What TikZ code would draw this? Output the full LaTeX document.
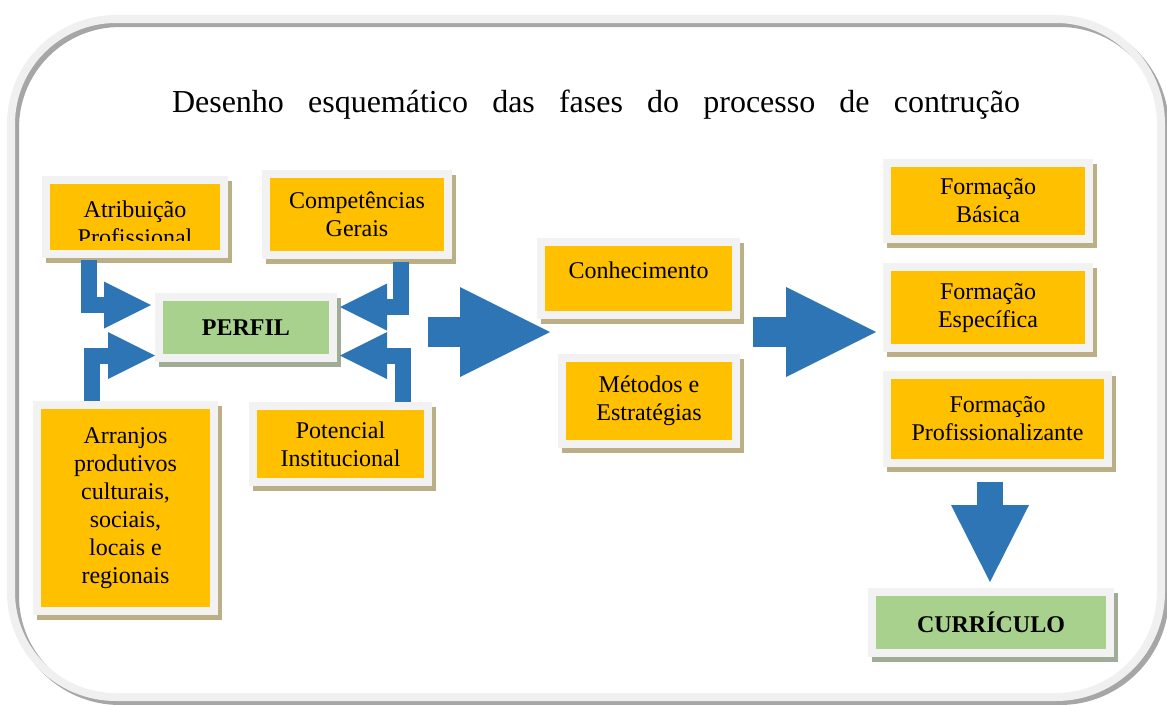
\documentclass[tikz,border=0pt]{standalone}
\usepackage{fontspec}
\setmainfont{Liberation Serif}
\usetikzlibrary{arrows.meta,calc}

\definecolor{boxyellow}{HTML}{FFC000}
\definecolor{boxframe}{HTML}{F2F2F2}
\definecolor{boxshade}{HTML}{BDAF85}
\definecolor{perfilgreen}{HTML}{A9D18E}
\definecolor{greenshade}{HTML}{A0AC96}
\definecolor{arrowblue}{HTML}{2E75B6}
\definecolor{outerband}{HTML}{F0F0F0}
\definecolor{outershade}{HTML}{A6A6A6}

\tikzset{
  caixa/.style 2 args={draw=boxframe, line width=8pt, fill=#1, align=center, inner sep=0pt,
    preaction={draw=#2, fill=#2, transform canvas={shift={(3.5pt,-5pt)}}}},
  fase/.style={caixa={boxyellow}{boxshade}, font=\fontsize{24}{28}\selectfont},
  meta/.style={caixa={perfilgreen}{greenshade}, font=\fontsize{24}{28}\selectfont\bfseries},
  seta/.style={arrowblue, line width=16pt, -{Triangle[length=47pt, width=47pt, line width=0pt]}},
  setagrande/.style={arrowblue, line width=30pt, -{Triangle[length=90pt, width=90pt, line width=0pt]}},
  setabaixo/.style={arrowblue, line width=26pt, -{Triangle[length=77pt, width=78pt, line width=0pt]}}
}

\begin{document}
\begin{tikzpicture}[x=1pt,y=-1pt]

    \useasboundingbox (0,0) rectangle (1167,704);
	\draw[outershade, line width=8pt, rounded corners=105pt] (15,23) rectangle (1165,701); % sombra
	\draw[outerband, line width=8pt, rounded corners=105pt] (11,19) rectangle (1161,697); % moldura

	\node[font=\fontsize{32}{38}\selectfont, anchor=base] (titulo) at (596,112)
	  {\makebox[848pt][s]{Desenho esquemático das fases do processo de contrução}};

	\node[fase, minimum width=178pt, minimum height=74pt] (atr) at (135,217) {};
	\begin{scope}
	  \clip ($(atr.north west)+(4,4)$) rectangle ($(atr.east)+(-4,23)$); % texto cortado
	  \node[font=\fontsize{24}{28}\selectfont, align=center] (atrtexto) at ($(atr.center)+(0,6)$) {Atribuição\\Profissional};
	\end{scope}
	\node[fase, minimum width=182pt, minimum height=81pt] (comp) at (357,214.5) {Competências\\Gerais};
	\node[meta, minimum width=174pt, minimum height=61pt] (perfil) at (246,327.5) {PERFIL};
	\node[fase, minimum width=177pt, minimum height=206pt] (arr) at (125.5,508) {Arranjos\\produtivos\\culturais,\\sociais,\\locais e\\regionais};
	\node[fase, minimum width=175pt, minimum height=76pt] (pot) at (340.5,444) {Potencial\\Institucional};

	\node[fase, minimum width=195pt, minimum height=73pt, text height=16pt, text depth=16pt] (con) at (638.5,278.5) {Conhecimento};
	\node[fase, minimum width=174pt, minimum height=86pt] (met) at (649,401) {Métodos e\\Estratégias};

	\node[fase, minimum width=202pt, minimum height=76pt] (fb) at (988,201) {Formação\\Básica};
	\node[fase, minimum width=202pt, minimum height=81pt] (fe) at (988,307.5) {Formação\\Específica};
	\node[fase, minimum width=221pt, minimum height=88pt] (fp) at (997.5,419) {Formação\\Profissionalizante};
	\node[meta, minimum width=238pt, minimum height=61pt] (cur) at (991,622.5) {CURRÍCULO};

	\draw[seta] ($(atr.south)+(-46,2)$) |- ($(perfil.west)+(-4,-22.5)$);
	\draw[seta] ($(arr.north)+(-33.5,0)$) |- ($(perfil.west)+(0,28)$);
	\draw[seta] ($(comp.south)+(44,3)$) |- ($(perfil.east)+(3,-20.5)$);
	\draw[seta] ($(pot.north)+(62.5,0)$) |- ($(perfil.east)+(3,28)$);

	\draw[setagrande] ($(perfil.east)+(91,4.5)$) -- ($(perfil.east)+(213,4.5)$);
	\draw[setagrande] ($(fe.west)+(-130,24.5)$) -- ($(fe.west)+(-7,24.5)$);
	\draw[setabaixo] ($(fp.south)+(-7.5,15)$) -- ($(cur.north)+(-1,-6)$);

  \end{tikzpicture}
\end{document}
